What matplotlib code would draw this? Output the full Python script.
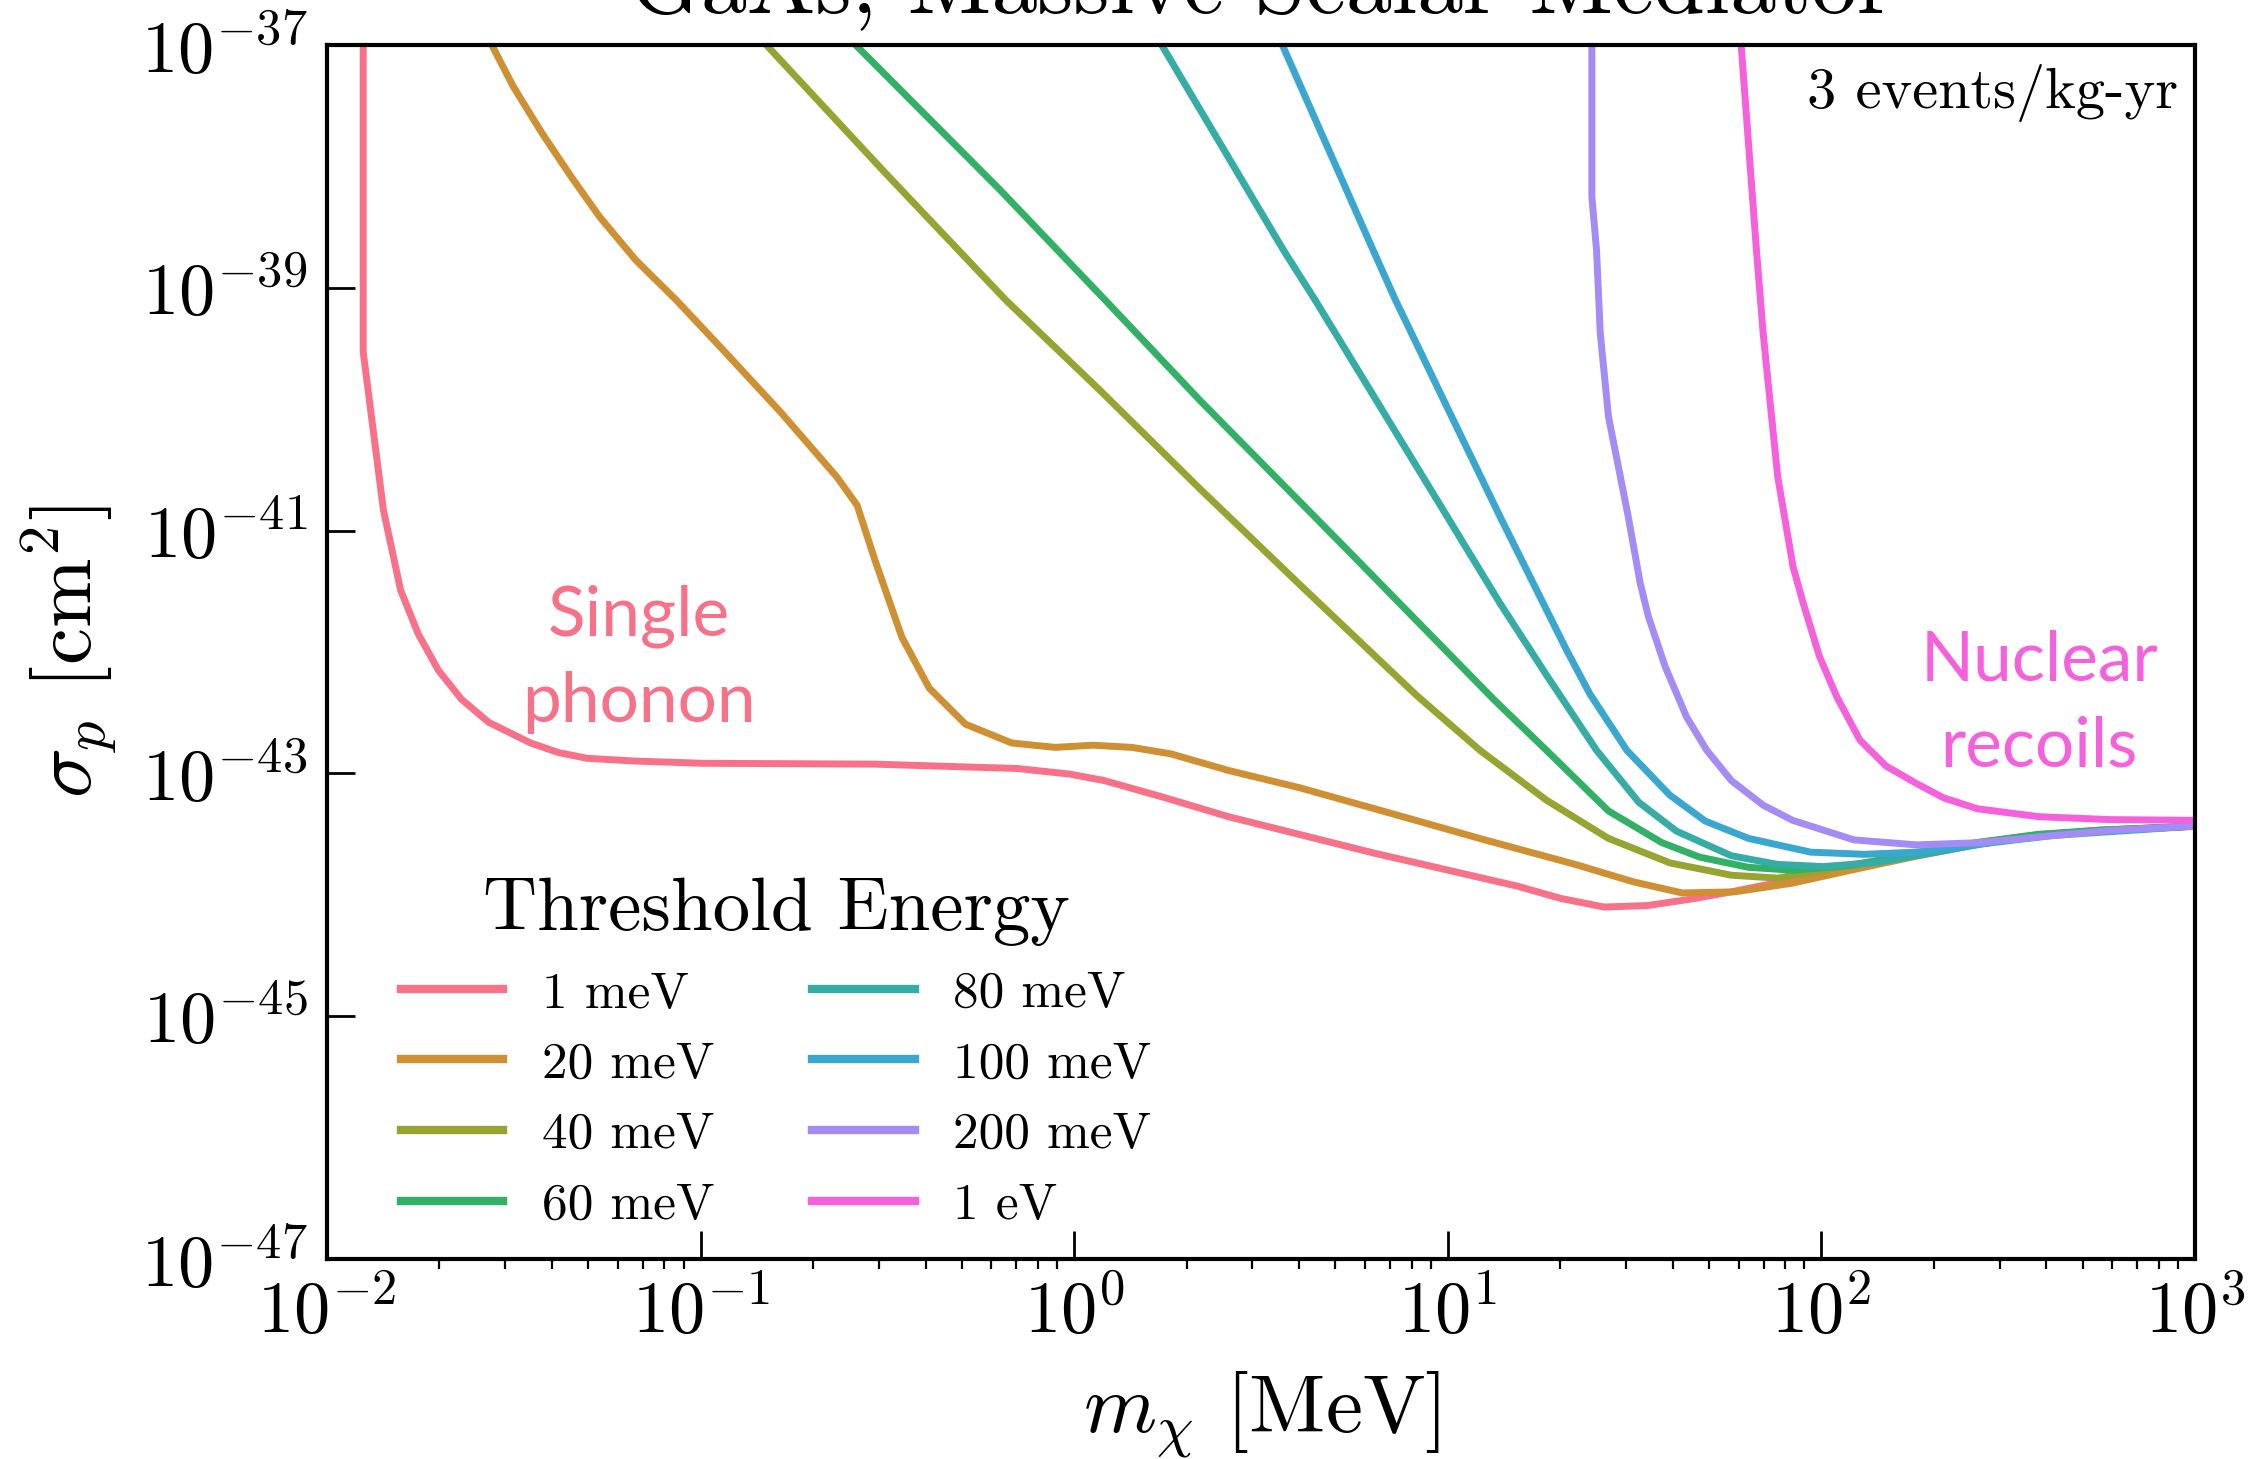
import matplotlib
matplotlib.use("Agg")
import matplotlib.pyplot as plt
import numpy as np
import seaborn as sns
from matplotlib.ticker import NullLocator

# Curves, as log10(m_chi / MeV) and log10(sigma_p / cm^2)
logm_1meV = [-1.903, -1.903, -1.849, -1.803, -1.756, -1.702, -1.640, -1.567, -1.455,
             -1.380, -1.304, -1.173, -0.995, -0.534, -0.152, -0.012, 0.081, 0.231, 0.413,
             0.800, 1.186, 1.302, 1.418, 1.534, 1.650, 1.759, 1.921, 2.087, 2.250,
             2.418, 2.579, 2.748, 3.0]
logs_1meV = [-37.0, -39.53, -40.83, -41.49, -41.85, -42.15, -42.39, -42.58, -42.75,
             -42.829, -42.876, -42.899, -42.917, -42.924, -42.96, -43.006, -43.06, -43.19, -43.357,
             -43.655, -43.929, -44.03, -44.101, -44.089, -44.036, -43.976, -43.875, -43.782, -43.679,
             -43.579, -43.512, -43.473, -43.436]

logm_20meV = [-1.559, -1.501, -1.424, -1.347, -1.270, -1.173, -1.065, -0.940, -0.786,
              -0.635, -0.581, -0.534, -0.461, -0.388, -0.291, -0.167, -0.051, 0.050,
              0.154, 0.258, 0.413, 0.604, 0.838, 1.099, 1.341, 1.496, 1.627, 1.767,
              1.921, 2.087, 2.250, 2.418, 2.579, 2.748, 3.0]
logs_20meV = [-37.0, -37.345, -37.729, -38.083, -38.417, -38.774, -39.102, -39.512, -40.024,
              -40.56, -40.792, -41.238, -41.881, -42.298, -42.595, -42.75, -42.786, -42.768,
              -42.786, -42.839, -42.976, -43.119, -43.321, -43.548, -43.75, -43.893, -43.985, -43.976,
              -43.905, -43.792, -43.685, -43.583, -43.512, -43.47, -43.436]

logm_40meV = [-0.824, -0.504, -0.183, 0.069, 0.336, 0.606, 0.916, 1.086, 1.264,
              1.430, 1.595, 1.759, 1.883, 2.087, 2.250, 2.418, 2.579, 2.748, 3.0]
logs_40meV = [-37.0, -38.06, -39.102, -39.845, -40.655, -41.452, -42.357, -42.81, -43.221,
              -43.536, -43.738, -43.839, -43.863, -43.75, -43.667, -43.571, -43.506, -43.468, -43.434]

logm_60meV = [-0.585, -0.198, 0.083, 0.336, 0.722, 1.125, 1.264, 1.430, 1.573,
              1.674, 1.805, 1.923, 2.087, 2.250, 2.418, 2.579, 2.748, 3.0]
logs_60meV = [-37.0, -38.196, -39.102, -39.926, -41.131, -42.398, -42.81, -43.31, -43.571,
              -43.69, -43.774, -43.798, -43.756, -43.661, -43.569, -43.503, -43.467, -43.434]

logm_80meV = [0.234, 0.560, 0.645, 0.896, 1.140, 1.264, 1.398, 1.511, 1.612,
              1.759, 1.883, 2.006, 2.153, 2.308, 2.463, 2.656, 3.0]
logs_80meV = [-37.0, -38.69, -39.102, -40.369, -41.601, -42.19, -42.81, -43.238, -43.476,
              -43.679, -43.75, -43.768, -43.732, -43.649, -43.563, -43.494, -43.434]

logm_100meV = [0.557, 0.800, 0.860, 0.993, 1.140, 1.318, 1.380, 1.479, 1.594,
               1.689, 1.805, 1.971, 2.115, 2.253, 2.424, 2.617, 3.0]
logs_100meV = [-37.0, -38.69, -39.102, -39.952, -40.887, -41.986, -42.345, -42.81, -43.179,
               -43.393, -43.536, -43.649, -43.667, -43.649, -43.583, -43.512, -43.434]

logm_200meV = [1.3855, 1.3855, 1.398, 1.408, 1.430, 1.483, 1.515, 1.537, 1.582,
               1.639, 1.693, 1.759, 1.844, 1.923, 2.087, 2.254, 2.424, 2.582, 2.772, 3.0]
logs_200meV = [-37.0, -38.25, -38.69, -39.376, -40.063, -40.887, -41.436, -41.711, -42.123,
               -42.536, -42.81, -43.06, -43.262, -43.387, -43.548, -43.589, -43.571, -43.524, -43.47, -43.434]

logm_1eV = [1.785, 1.826, 1.844, 1.862, 1.883, 1.924, 1.952, 1.995, 2.041,
            2.103, 2.173, 2.254, 2.327, 2.418, 2.582, 2.772, 3.0]
logs_1eV = [-37.0, -38.69, -39.376, -39.926, -40.558, -41.298, -41.607, -42.04, -42.369,
            -42.726, -42.94, -43.083, -43.202, -43.292, -43.357, -43.381, -43.387]

labels = ["1 meV", "20 meV", "40 meV", "60 meV", "80 meV", "100 meV", "200 meV", "1 eV"]
masses = [logm_1meV, logm_20meV, logm_40meV, logm_60meV,
          logm_80meV, logm_100meV, logm_200meV, logm_1eV]
sigmas = [logs_1meV, logs_20meV, logs_40meV, logs_60meV,
          logs_80meV, logs_100meV, logs_200meV, logs_1eV]

colors = sns.color_palette("husl", 8)

plt.rcParams['font.family'] = 'serif'
plt.rcParams['font.serif'] = ['cmr10']
plt.rcParams['mathtext.fontset'] = 'cm'
plt.rcParams['axes.formatter.use_mathtext'] = True
plt.rcParams['axes.unicode_minus'] = False

fig = plt.figure(figsize=(11.33, 7.295), dpi=200)
ax = fig.add_axes([0.1443, 0.1371, 0.8244, 0.8321])

for lm, ls, lab, c in zip(masses, sigmas, labels, colors):
    ax.plot(10**np.array(lm), 10**np.array(ls), color=c, lw=2.5, label=lab)

ax.set_xscale('log')
ax.set_yscale('log')
ax.set_xlim(1e-2, 1e3)
ax.set_ylim(1e-47, 1e-37)
ax.set_yticks([1e-47, 1e-45, 1e-43, 1e-41, 1e-39, 1e-37])
ax.yaxis.set_minor_locator(NullLocator())

for s in ax.spines.values():
    s.set_linewidth(1.5)
ax.tick_params(which='major', direction='in', length=10, width=1.0, labelsize=26, pad=7)
ax.tick_params(which='minor', direction='out', length=3.5, width=0.8)

ax.set_xlabel(r'$m_\chi$ [MeV]', fontsize=30, labelpad=8)
ax.set_ylabel(r'$\sigma_p$ [cm$^2$]', fontsize=30, labelpad=8)
ax.set_title('GaAs, Massive Scalar Mediator', fontsize=33, pad=11.5)

ax.text(0.991, 0.984, '3 events/kg-yr', transform=ax.transAxes, ha='right', va='top',
        fontsize=21)

ax.text(0.167, 0.494, 'Single\nphonon', transform=ax.transAxes, ha='center', va='center',
        fontsize=25, color=colors[0], family='Lato', linespacing=1.47)
ax.text(0.9165, 0.457, 'Nuclear\nrecoils', transform=ax.transAxes, ha='center', va='center',
        fontsize=25, color=colors[7], family='Lato', linespacing=1.45)

leg = ax.legend(ncol=2, loc='lower left', bbox_to_anchor=(0.0146, -0.013), frameon=False,
                fontsize=18.5, title='Threshold Energy', title_fontsize=27,
                handlelength=2.0, handletextpad=0.75, columnspacing=1.9,
                labelspacing=0.48)
for h in leg.get_lines():
    h.set_linewidth(3)

fig.savefig('out.png', dpi=200)
